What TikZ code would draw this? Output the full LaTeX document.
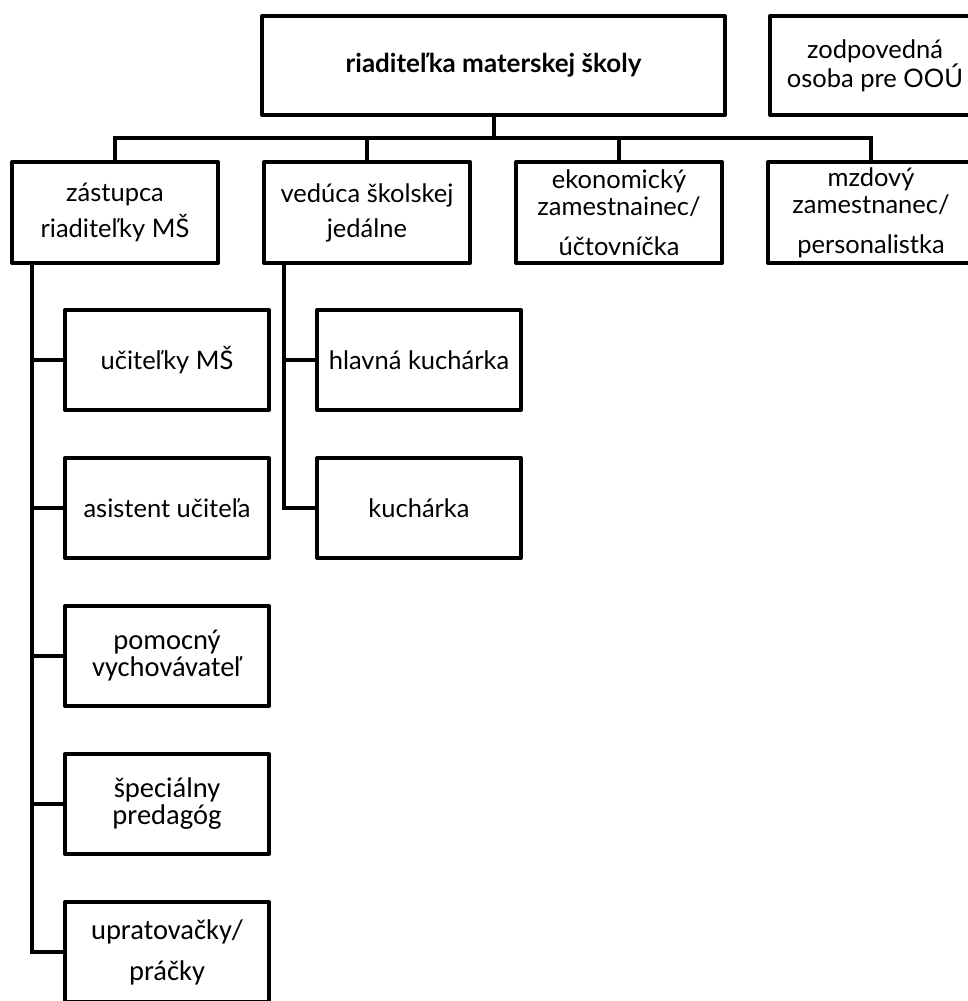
\documentclass[tikz,border=0pt]{standalone}
\usepackage{fontspec}
\setmainfont{Lato}
\newfontfamily\calfont{Carlito}
\begin{document}
\begin{tikzpicture}[x=1pt,y=-1pt,
  box/.style={draw=black,line width=4pt,line join=round,rectangle,inner sep=0pt,
    align=center,text=black,font=\fontsize{25.5}{27}\selectfont},
  cal/.style={font=\fontsize{28.5}{27}\calfont},
  wbox/.style={box,minimum width=206pt,minimum height=101pt},
  cbox/.style={box,minimum width=204pt,minimum height=100pt},
  conn/.style={draw=black,line width=4pt}]
\useasboundingbox (0,0) rectangle (968,1001);
% top level
\node[box,minimum width=463pt,minimum height=99pt,font=\fontsize{26}{27}\selectfont\bfseries]
  (top) at (493.5,65.5) {riaditeľka materskej školy};
\node[box,minimum width=210pt,minimum height=99pt] (zodp) at (875,65.5)
  {zodpovedná\\osoba pre OOÚ};
% second level
\node[wbox] (zast) at (115,212.5) {zástupca\\[8pt]riaditeľky MŠ};
\node[wbox] (ved) at (367,212.5) {vedúca školskej\\[8pt]jedálne};
\node[wbox] (eko) at (619,212.5) {ekonomický\\zamestnainec/\\[13pt]účtovníčka};
\node[wbox] (mzd) at (871,212.5) {mzdový\\zamestnanec/\\[13pt]personalistka};
% third level under zastupca
\node[cbox] (uci) at (167,360) {učiteľky MŠ};
\node[cbox] (asi) at (167,508) {asistent učiteľa};
\node[cbox,cal] (pom) at (167,656) {pomocný\\vychovávateľ};
\node[cbox,cal] (spe) at (167,804) {špeciálny\\predagóg};
\node[cbox,cal] (upr) at (167,952) {upratovačky/\\[14pt]práčky};
% third level under veduca
\node[cbox] (hla) at (419,360) {hlavná kuchárka};
\node[cbox] (kuc) at (419,508) {kuchárka};
% connectors
\coordinate (bus) at (493.5,138);
\coordinate (zl) at (32,263);
\coordinate (vl) at (284,263);
\draw[conn] (top.south) -- (top.south |- bus);
\draw[conn] (zast.north) -- (zast.north |- bus) -- (mzd.north |- bus) -- (mzd.north);
\draw[conn] (ved.north) -- (ved.north |- bus);
\draw[conn] (eko.north) -- (eko.north |- bus);
\draw[conn] (zl) -- (zl |- upr.west) -- (upr.west);
\foreach \n in {uci,asi,pom,spe}{\draw[conn] (zl |- \n.west) -- (\n.west);}
\draw[conn] (vl) -- (vl |- kuc.west) -- (kuc.west);
\draw[conn] (vl |- hla.west) -- (hla.west);
\end{tikzpicture}
\end{document}
